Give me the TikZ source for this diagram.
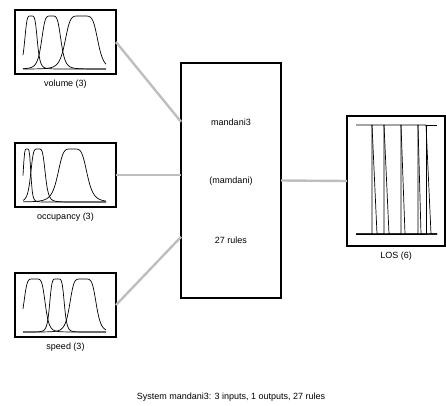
\documentclass[tikz,border=0pt]{standalone}
\usepackage{fontspec}
\setmainfont{Liberation Sans}
\usepackage{xcolor}
\definecolor{LinkGray}{HTML}{BEBEBE}
\usetikzlibrary{positioning, calc}
\tikzset{
  mfbox/.style={rectangle, draw, line width=2.3pt, outer sep=0pt, inner sep=0pt},
  mfcurve/.style={black, line width=0.7pt},
  link/.style={LinkGray, line width=2.4pt},
  lbl/.style={inner sep=0pt, font=\fontsize{9}{10}\selectfont}
}
\newcommand{\mfbell}[4]{%
  \begin{scope}[shift={(#1.south west)}]
    \draw[mfcurve] plot[domain=8:91, samples=100] (\x, {-5-53/(1+(min(abs((\x-8-#2)/#3),4))^#4)});
  \end{scope}}

\begin{document}
\begin{tikzpicture}[x=1pt, y=-1pt]
        \useasboundingbox (0,0) rectangle (446,405);

        \node (volume) [mfbox, minimum width=101pt, minimum height=64pt] at (65.5,42) {};
        \node (occupancy) [mfbox, minimum width=101pt, minimum height=64pt] at (65.5,175) {};
        \node (speed) [mfbox, minimum width=101pt, minimum height=64pt] at (65.5,305) {};
        \node (fis) [mfbox, line width=2pt, minimum width=100pt, minimum height=235pt] at (231,180.5) {};
        \node (los) [mfbox, minimum width=98pt, minimum height=130pt] at (396,181) {};

        \node (volumelbl) [lbl, below=6pt of volume] {volume (3)};
        \node (occupancylbl) [lbl, below=6pt of occupancy] {occupancy (3)};
        \node (speedlbl) [lbl, below=6pt of speed] {speed (3)};
        \node (loslbl) [lbl, below=6pt of los] {LOS (6)};

        \node (fisname) [lbl] at ($(fis.center)+(0,-58)$) {mandani3};
        \node (fistype) [lbl] at ($(fis.center)+(0,1)$) {(mamdani)};
        \node (fisrules) [lbl] at ($(fis.center)+(0,60)$) {27 rules};
        \node (summary) [lbl] at (231,397) {System mandani3: 3 inputs, 1 outputs, 27 rules};

        \mfbell{volume}{8}{6.5}{5}
        \mfbell{volume}{28.3}{10}{5}
        \mfbell{volume}{58.5}{16.7}{6}
        \mfbell{occupancy}{4}{4}{5}
        \mfbell{occupancy}{15}{7.5}{5}
        \mfbell{occupancy}{49.5}{15}{5}
        \mfbell{speed}{11.5}{11}{6}
        \mfbell{speed}{34}{7.5}{6}
        \mfbell{speed}{60}{13.5}{6}

        \begin{scope}[shift={(los.north west)}]
          \draw[mfcurve] (9,9) -- (25,9) -- (30,118) -- (90,118);
          \foreach \a/\c/\d in {25/37/42, 37/54/58, 54/71/74, 71/79/84}
            \draw[mfcurve] (9,118) -- (\a,118) -- (\a,9) -- (\c,9) -- (\d,118) -- (90,118);
          \draw[mfcurve] (9,118) -- (79,118) -- (79,9) -- (90,9);
        \end{scope}

        \draw[link] (volume.east) -- ($(fis.north west)!0.25!(fis.south west)$);
        \draw[link] (occupancy.east) -- (occupancy.east -| fis.west);
        \draw[link] (speed.east) -- ($(fis.north west)!0.74!(fis.south west)$);
        \draw[link] (fis.east) -- (los.west);
    \end{tikzpicture}
\end{document}
